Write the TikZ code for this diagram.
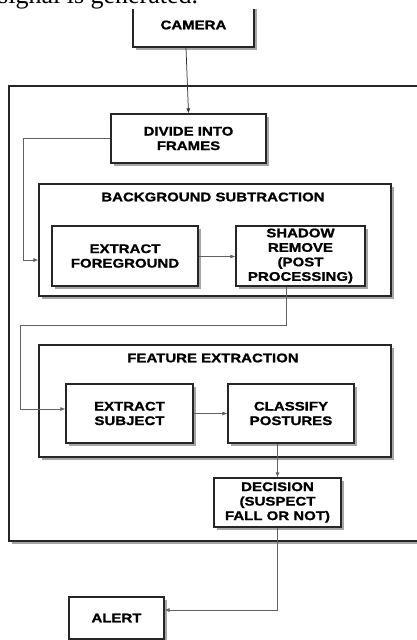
\documentclass[tikz,border=0pt]{standalone}
\usepackage{fontspec}
\usetikzlibrary{arrows.meta,shadows,calc}
\newfontfamily\bx{Liberation Sans}[UprightFont={* Bold}, FakeStretch=1.2, FakeBold=1.2]
\newfontfamily\serifx{Liberation Serif}
\begin{document}
\begin{tikzpicture}[x=1pt,y=-1pt,
  box/.style={draw=black!85, line width=1.2pt, fill=white, align=center, inner sep=0pt,
    drop shadow={shadow xshift=2.6pt, shadow yshift=-2.6pt, fill=black!35, opacity=1},
    font=\bx\fontsize{12.5}{14.5}\selectfont},
  ttl/.style={inner sep=0pt, font=\bx\fontsize{12.5}{14.5}\selectfont},
  conn/.style={draw=black!62, line width=0.75pt, -{Latex[length=5pt,width=4pt]}},
  line/.style={draw=black!62, line width=0.75pt}]
\useasboundingbox (0,0) rectangle (417,640);
\clip (0,0) rectangle (417,640);
\fill[white] (0,0) rectangle (417,640);
% outer frame
\path[draw=black!85, line width=1.2pt, fill=white,
  drop shadow={shadow xshift=2.6pt, shadow yshift=-2.6pt, fill=black!35, opacity=1}]
  (9,86) rectangle (440,541);
% boxes
\node[box, minimum width=121pt, minimum height=44pt] (camera) at (193.5,25) {CAMERA};
\node[box, minimum width=155pt, minimum height=49pt] (divide) at (188.5,138.5) {DIVIDE INTO\\FRAMES};
\node[box, minimum width=352pt, minimum height=112pt] (bg) at (215,240) {};
\node[ttl] (bgt) at (213,197) {BACKGROUND SUBTRACTION};
\node[box, minimum width=146pt, minimum height=60pt] (ef) at (125,256) {EXTRACT\\FOREGROUND};
\node[box, minimum width=129pt, minimum height=60pt] (sr) at (300.5,256) {SHADOW\\REMOVE\\(POST\\PROCESSING)};
\node[box, minimum width=352pt, minimum height=112pt] (fe) at (215,401) {};
\node[ttl] (fet) at (213,358) {FEATURE EXTRACTION};
\node[box, minimum width=127pt, minimum height=59pt] (es) at (129.5,413.5) {EXTRACT\\SUBJECT};
\node[box, minimum width=126pt, minimum height=59pt] (cp) at (291,413.5) {CLASSIFY\\POSTURES};
\node[box, minimum width=127pt, minimum height=49pt] (dec) at (277.5,502.5) {DECISION\\(SUSPECT\\FALL OR NOT)};
\node[box, minimum width=95pt, minimum height=42pt] (alert) at (116.5,618) {ALERT};
% connectors
\coordinate (c1) at (23,260);
\coordinate (c2) at (286,325);
\coordinate (c3) at (20,409);
\coordinate (c4) at (277.5,610);
\draw[conn, draw=black!80] ([xshift=-7.5pt]camera.south) -- (divide.north);
\draw[conn] (divide.west) -| (c1) -- (c1 -| bg.west);
\draw[conn] ([yshift=-0.5pt]ef.east) -- ([yshift=-0.5pt]sr.west);
\draw[line] ([xshift=-14.5pt]sr.south) -- (c2) -| (c3);
\draw[conn] (c3) -- (c3 -| es.west);
\draw[conn] (es.east) -- (cp.west);
\draw[conn] (cp.south -| dec.north) -- (dec.north);
\draw[line] (dec.south) -- (c4);
\draw[conn] (c4) -- (c4 -| alert.east);
% cropped caption line at the top
\fill[white] (0,0) rectangle (417,9);
\node[anchor=base west, inner sep=0pt, font=\serifx\fontsize{26}{30}\selectfont] (cap) at (-2,3.5) {signal is generated.};
\end{tikzpicture}
\end{document}
